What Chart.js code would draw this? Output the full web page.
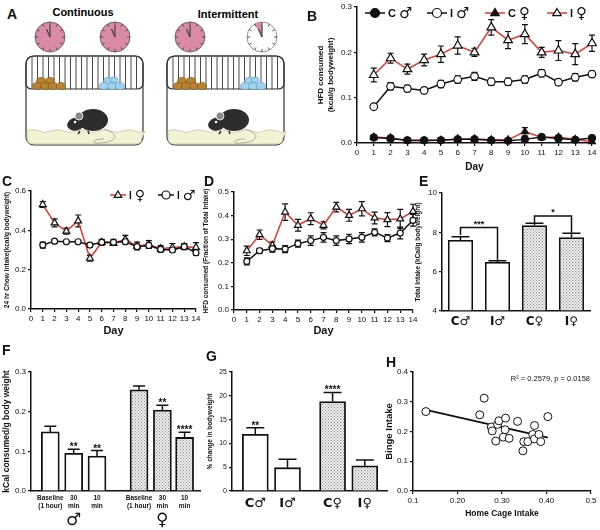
<!DOCTYPE html>
<html>
<head>
<meta charset="utf-8">
<script src="https://cdn.jsdelivr.net/npm/chart.js@4.4.1/dist/chart.umd.min.js"></script>
<style>
  body { margin:0; background:#fff; width:600px; height:530px; position:relative; overflow:hidden;
         font-family:'Liberation Sans','DejaVu Sans',sans-serif; color:#111; }
  .box { position:absolute; }
  .lbl { position:absolute; font-weight:bold; font-size:14px; z-index:5; }
  .sym { position:absolute; font-family:'DejaVu Sans',sans-serif; font-weight:bold; font-size:17px; z-index:5; }
</style>
</head>
<body>

<svg class="box" style="left:0;top:0" width="300" height="165">
  <defs>
    <g id="cage">
      <rect x="26" y="56" width="117" height="89" rx="8" fill="#fff" stroke="#333" stroke-width="1.2"/>
      <path d="M27 131 q6 -3 12 0 t12 0 t12 0 t12 0 t12 0 t12 0 t12 0 t12 0 t12 0 t10 0 L142 138 Q142 144 136 144 L33 144 Q27 144 27 138 Z" fill="#f4f2d4" stroke="#b8b68c" stroke-width="0.6"/>
      <g stroke="#333" stroke-width="0.9">
        <line x1="32" y1="57" x2="32" y2="89"/><line x1="37.5" y1="57" x2="37.5" y2="89"/><line x1="43" y1="57" x2="43" y2="89"/>
        <line x1="48.5" y1="57" x2="48.5" y2="89"/><line x1="54" y1="57" x2="54" y2="89"/><line x1="59.5" y1="57" x2="59.5" y2="89"/>
        <line x1="65" y1="57" x2="65" y2="89"/><line x1="70.5" y1="57" x2="70.5" y2="89"/><line x1="76" y1="57" x2="76" y2="89"/>
        <line x1="81.5" y1="57" x2="81.5" y2="89"/><line x1="87" y1="57" x2="87" y2="89"/><line x1="92.5" y1="57" x2="92.5" y2="89"/>
        <line x1="98" y1="57" x2="98" y2="89"/><line x1="103.5" y1="57" x2="103.5" y2="89"/><line x1="109" y1="57" x2="109" y2="89"/>
        <line x1="114.5" y1="57" x2="114.5" y2="89"/><line x1="120" y1="57" x2="120" y2="89"/><line x1="125.5" y1="57" x2="125.5" y2="89"/>
        <line x1="131" y1="57" x2="131" y2="89"/><line x1="136.5" y1="57" x2="136.5" y2="89"/>
      </g>
      <path d="M26 64 Q26 56 34 56 L135 56 Q143 56 143 64 L143 83 Q143 89 137 89 L32 89 Q26 89 26 83 Z" fill="none" stroke="#333" stroke-width="1.2"/>
      <g fill="#b9822f" stroke="#7a5520" stroke-width="0.6">
        <ellipse cx="41" cy="81" rx="4.5" ry="3.5"/><ellipse cx="50" cy="81" rx="4.5" ry="3.5"/>
        <ellipse cx="37" cy="86" rx="4.5" ry="3.5"/><ellipse cx="45" cy="86" rx="4.5" ry="3.5"/>
        <ellipse cx="53" cy="86" rx="4.5" ry="3.5"/><ellipse cx="61" cy="86" rx="4.5" ry="3.5"/>
      </g>
      <g fill="#9fd2ef" stroke="#5a9cc0" stroke-width="0.6">
        <ellipse cx="108" cy="81" rx="4.5" ry="3.5"/><ellipse cx="114" cy="80" rx="4" ry="3"/>
        <ellipse cx="104" cy="86" rx="4.5" ry="3.5"/><ellipse cx="112" cy="86" rx="4.5" ry="3.5"/>
        <ellipse cx="120" cy="86" rx="4.5" ry="3.5"/>
      </g>
      <path d="M104 129 C120 134 118 142 100 143 C90 144 92 139 104 139" fill="none" stroke="#aaa" stroke-width="1"/>
      <ellipse cx="93" cy="120" rx="15" ry="11" fill="#2d2d2d"/>
      <ellipse cx="76" cy="124" rx="9" ry="6.5" fill="#2d2d2d" transform="rotate(-15 76 124)"/>
      <circle cx="79" cy="116" r="4" fill="#8a8a8a" stroke="#fff" stroke-width="0.8"/>
      <circle cx="75" cy="122" r="1.3" fill="#fff"/>
      <path d="M80 131 l-2 3 M88 131 l1 3" stroke="#2d2d2d" stroke-width="1.5"/>
    </g>
    <g id="clock">
      <g stroke="#444" stroke-width="0.9">
        <line x1="0" y1="-15" x2="0" y2="-12"/><line x1="0" y1="15" x2="0" y2="12"/>
        <line x1="-15" y1="0" x2="-12" y2="0"/><line x1="15" y1="0" x2="12" y2="0"/>
        <line x1="7.5" y1="-13" x2="6" y2="-10.4"/><line x1="13" y1="-7.5" x2="10.4" y2="-6"/>
        <line x1="13" y1="7.5" x2="10.4" y2="6"/><line x1="7.5" y1="13" x2="6" y2="10.4"/>
        <line x1="-7.5" y1="13" x2="-6" y2="10.4"/><line x1="-13" y1="7.5" x2="-10.4" y2="6"/>
        <line x1="-13" y1="-7.5" x2="-10.4" y2="-6"/><line x1="-7.5" y1="-13" x2="-6" y2="-10.4"/>
        <line x1="0" y1="0" x2="0" y2="-12" stroke-width="1.2"/><line x1="0" y1="0" x2="-3.5" y2="-8" stroke-width="1.2"/>
      </g>
    </g>
  </defs>
  <text x="83" y="16" text-anchor="middle" font-weight="bold" font-size="11" font-family="Liberation Sans">Continuous</text>
  <text x="228" y="18" text-anchor="middle" font-weight="bold" font-size="11" font-family="Liberation Sans">Intermittent</text>
  <use href="#cage"/>
  <use href="#cage" transform="translate(141 0)"/>
  <circle cx="50" cy="37" r="15" fill="#d98aa7" stroke="#555" stroke-width="0.8"/>
  <use href="#clock" transform="translate(50 37)"/>
  <circle cx="115" cy="37" r="15" fill="#d98aa7" stroke="#555" stroke-width="0.8"/>
  <use href="#clock" transform="translate(115 37)"/>
  <circle cx="190" cy="37" r="15" fill="#d98aa7" stroke="#555" stroke-width="0.8"/>
  <use href="#clock" transform="translate(190 37)"/>
  <circle cx="262" cy="37" r="15" fill="#fff" stroke="#777" stroke-width="0.8"/>
  <path d="M262 37 L262 22 A15 15 0 0 0 254.5 24 Z" fill="#d98aa7"/>
  <use href="#clock" transform="translate(262 37)"/>
</svg>

<div class="lbl" style="left:7px;top:6px">A</div>
<div class="lbl" style="left:307px;top:8px">B</div>
<div class="lbl" style="left:2px;top:173px">C</div>
<div class="lbl" style="left:204px;top:173px">D</div>
<div class="lbl" style="left:419px;top:173px">E</div>
<div class="lbl" style="left:2px;top:342px">F</div>
<div class="lbl" style="left:206px;top:348px">G</div>
<div class="lbl" style="left:386px;top:354px">H</div>

<canvas id="chB" class="box" style="left:300px;top:0" width="300" height="175"></canvas>
<canvas id="chC" class="box" style="left:0;top:175px" width="210" height="165"></canvas>
<canvas id="chD" class="box" style="left:200px;top:175px" width="220" height="165"></canvas>
<canvas id="chE" class="box" style="left:410px;top:175px" width="190" height="160"></canvas>
<canvas id="chF" class="box" style="left:0;top:335px" width="210" height="195"></canvas>
<canvas id="chG" class="box" style="left:205px;top:335px" width="185" height="195"></canvas>
<canvas id="chH" class="box" style="left:383px;top:335px" width="217" height="195"></canvas>

<div class="sym" style="left:66px;top:509px">♂</div>
<div class="sym" style="left:156px;top:509px">♀</div>

<script>
'use strict';

let days = [1, 2, 3, 4, 5, 6, 7, 8, 9, 10, 11, 12, 13, 14];

// B: HFD consumed (kcal/g bodyweight)
let hfdCMale = [0.012, 0.010, 0.006, 0.006, 0.006, 0.008, 0.008, 0.006, 0.005, 0.008, 0.013, 0.010, 0.007, 0.011];
let hfdIMale = [0.080, 0.125, 0.120, 0.116, 0.130, 0.140, 0.147, 0.135, 0.135, 0.140, 0.154, 0.134, 0.145, 0.152];
let hfdIMaleErr = [0.002, 0.008, 0.007, 0.007, 0.008, 0.008, 0.009, 0.008, 0.008, 0.008, 0.008, 0.007, 0.008, 0.006];
let hfdCFemale = [0.013, 0.011, 0.005, 0.005, 0.006, 0.009, 0.009, 0.007, 0.007, 0.025, 0.012, 0.013, 0.008, 0.003];
let hfdCFemaleErr = [null, null, null, null, null, null, null, null, null, 0.009, null, 0.004, null, null];
let hfdIFemale = [0.150, 0.187, 0.163, 0.183, 0.196, 0.215, 0.200, 0.255, 0.227, 0.240, 0.200, 0.204, 0.196, 0.220];
let hfdIFemaleErr = [0.015, 0.011, 0.011, 0.013, 0.018, 0.019, 0.009, 0.017, 0.019, 0.021, 0.011, 0.022, 0.023, 0.018];

// C: 24 hr chow intake
let chowIFemale = [0.531, 0.438, 0.396, 0.448, 0.258, 0.339, 0.334, 0.354, 0.320, 0.328, 0.307, 0.313, 0.317, 0.313];
let chowIFemaleErr = [0.015, 0.02, 0.015, 0.03, 0.015, 0.015, 0.01, 0.02, 0.02, 0.02, 0.015, 0.02, 0.015, 0.025];
let chowIMale = [0.325, 0.345, 0.342, 0.342, 0.325, 0.339, 0.339, 0.342, 0.317, 0.323, 0.303, 0.300, 0.317, 0.286];
let chowIMaleErr = [0.015, 0.008, 0.006, 0.006, 0.01, 0.01, 0.015, 0.01, 0.012, 0.012, 0.012, 0.01, 0.01, 0.012];

// D: HFD fraction of total intake
let fracIFemale = [0.251, 0.319, 0.274, 0.415, 0.359, 0.387, 0.359, 0.436, 0.401, 0.429, 0.390, 0.383, 0.386, 0.418];
let fracIFemaleErr = [0.02, 0.02, 0.015, 0.035, 0.025, 0.025, 0.015, 0.02, 0.025, 0.03, 0.025, 0.03, 0.04, 0.03];
let fracIMale = [0.206, 0.251, 0.260, 0.258, 0.281, 0.294, 0.308, 0.294, 0.301, 0.308, 0.329, 0.305, 0.326, 0.380];
let fracIMaleErr = [0.015, 0.01, 0.015, 0.015, 0.015, 0.02, 0.02, 0.02, 0.02, 0.02, 0.015, 0.015, 0.025, 0.025];

// E: total intake
let groups = ['C♂', 'I♂', 'C♀', 'I♀'];
let totalIntake = [7.61, 6.49, 8.36, 7.75];
let totalIntakeErr = [0.17, 0.07, 0.10, 0.20];

// F: binge test
let bingeLabels = [['Baseline', '(1 hour)'], ['30', 'min'], ['10', 'min'], ['Baseline', '(1 hour)'], ['30', 'min'], ['10', 'min']];
let bingeSlots = [1, 2, 3, 4.8, 5.8, 6.75];
let bingeMale = [0.149, 0.095, 0.088];
let bingeMaleErr = [0.014, 0.010, 0.014];
let bingeFemale = [0.255, 0.204, 0.135];
let bingeFemaleErr = [0.010, 0.012, 0.013];
let bingeStars = ['', '**', '**', '', '**', '****'];

// G: % change in bodyweight
let weightSlots = [1, 2, 3.4, 4.4];
let weightChange = [11.9, 4.9, 18.8, 5.3];
let weightChangeErr = [1.4, 1.75, 1.9, 1.2];
let weightStars = ['**', '', '****', ''];

// H: binge vs home cage intake
let homeCage = [0.129, 0.250, 0.260, 0.276, 0.278, 0.286, 0.290, 0.293, 0.303, 0.307, 0.308, 0.316, 0.335, 0.347, 0.349, 0.358, 0.369, 0.373, 0.373, 0.383, 0.387, 0.403];
let bingeIntake = [0.267, 0.256, 0.312, 0.215, 0.202, 0.168, 0.224, 0.236, 0.181, 0.206, 0.245, 0.177, 0.234, 0.135, 0.166, 0.166, 0.190, 0.220, 0.175, 0.190, 0.166, 0.250];
let fitX = [0.129, 0.403];
let fitY = [0.273, 0.179];
let homeCageTicks = ['0.1', '0.20', '0.30', '0.40', '0.5'];

let RED = '#e8362a';
let INK = '#111';
let SANS = "'Liberation Sans', 'DejaVu Sans', sans-serif";
let SYMFONT = "'DejaVu Sans', sans-serif";

Chart.defaults.font.family = SANS;
Chart.defaults.color = INK;
Chart.defaults.animation = false;
Chart.defaults.plugins.legend.display = false;
Chart.defaults.plugins.tooltip.enabled = false;

// stippled fill used by the female bars
function stipple() {
    let c = document.createElement('canvas');
    c.width = 3; c.height = 3;
    let g = c.getContext('2d');
    g.fillStyle = '#eeeeee';
    g.fillRect(0, 0, 3, 3);
    g.fillStyle = '#8a8a8a';
    g.fillRect(0, 0, 1, 1);
    g.fillRect(1.5, 1.5, 1, 1);
    return g.createPattern(c, 'repeat');
}
let dots = stipple();

function pair(xs, ys) {
    return xs.map((x, i) => ({ x: x, y: ys[i] }));
}

function valueOf(v) {
    return (v !== null && typeof v === 'object') ? v.y : v;
}

// error bars, drawn before the marks so markers sit on top
let errorBars = {
    id: 'errorBars',
    beforeDatasetsDraw(chart) {
        let ctx = chart.ctx;
        chart.data.datasets.forEach((ds, i) => {
            if (!ds.errors) return;
            let meta = chart.getDatasetMeta(i);
            let ys = chart.scales[meta.yAxisID];
            ctx.save();
            ctx.strokeStyle = INK;
            ctx.lineWidth = ds.errorWidth || 1.2;
            meta.data.forEach((el, j) => {
                let e = ds.errors[j];
                if (e == null) return;
                let v = valueOf(ds.data[j]);
                let top = ys.getPixelForValue(v + e);
                let bot = ds.errorUp ? el.y : ys.getPixelForValue(v - e);
                let cap = ds.errorCap || 3;
                ctx.beginPath();
                ctx.moveTo(el.x, bot);
                ctx.lineTo(el.x, top);
                ctx.moveTo(el.x - cap, top);
                ctx.lineTo(el.x + cap, top);
                if (!ds.errorUp) {
                    ctx.moveTo(el.x - cap, bot);
                    ctx.lineTo(el.x + cap, bot);
                }
                ctx.stroke();
            });
            ctx.restore();
        });
    },
    afterDatasetsDraw(chart) {
        let ctx = chart.ctx;
        chart.data.datasets.forEach((ds, i) => {
            if (!ds.stars) return;
            let meta = chart.getDatasetMeta(i);
            let ys = chart.scales[meta.yAxisID];
            ctx.save();
            ctx.fillStyle = INK;
            ctx.font = 'bold 10px ' + SANS;
            ctx.textAlign = 'center';
            ctx.textBaseline = 'alphabetic';
            meta.data.forEach((el, j) => {
                if (!ds.stars[j]) return;
                let top = ys.getPixelForValue(valueOf(ds.data[j]) + (ds.errors ? ds.errors[j] || 0 : 0));
                ctx.fillText(ds.stars[j], el.x, top + 1);
            });
            ctx.restore();
        });
    }
};

function marker(ctx, style, x, y, r, fill) {
    ctx.beginPath();
    if (style === 'triangle') {
        ctx.moveTo(x, y - r);
        ctx.lineTo(x + r * 0.95, y + r * 0.6);
        ctx.lineTo(x - r * 0.95, y + r * 0.6);
        ctx.closePath();
    } else {
        ctx.arc(x, y, r, 0, Math.PI * 2);
    }
    ctx.fillStyle = fill;
    ctx.fill();
    ctx.stroke();
}

// legend in the GraphPad style: line, marker, letter and sex symbol
let lineLegend = {
    id: 'lineLegend',
    afterDraw(chart, args, opts) {
        if (!opts.items) return;
        let ctx = chart.ctx;
        opts.items.forEach(it => {
            ctx.save();
            ctx.strokeStyle = it.color;
            ctx.lineWidth = 1.5;
            ctx.beginPath();
            ctx.moveTo(it.x, opts.y);
            ctx.lineTo(it.x + opts.len, opts.y);
            ctx.stroke();
            ctx.strokeStyle = INK;
            ctx.lineWidth = 1.2;
            marker(ctx, it.style, it.x + opts.len / 2, opts.y, opts.r, it.fill);
            ctx.fillStyle = INK;
            ctx.textBaseline = 'middle';
            ctx.font = 'bold ' + opts.size + 'px ' + SANS;
            let tx = it.x + opts.len + 3;
            ctx.fillText(it.text, tx, opts.y + 1);
            tx += ctx.measureText(it.text).width + 3;
            ctx.font = 'bold ' + (opts.size + 4) + 'px ' + SYMFONT;
            ctx.fillText(it.sym, tx, opts.y + 1);
            ctx.restore();
        });
    }
};

// significance brackets for panel E
let brackets = {
    id: 'brackets',
    afterDatasetsDraw(chart, args, opts) {
        if (!opts.items) return;
        let ctx = chart.ctx;
        let meta = chart.getDatasetMeta(0);
        let ys = chart.scales.y;
        opts.items.forEach(b => {
            let xa = meta.data[b.a].x, xb = meta.data[b.b].x;
            let yt = ys.getPixelForValue(b.top);
            ctx.save();
            ctx.strokeStyle = INK;
            ctx.lineWidth = 1.5;
            ctx.beginPath();
            ctx.moveTo(xa, ys.getPixelForValue(b.aEnd));
            ctx.lineTo(xa, yt);
            ctx.lineTo(xb, yt);
            ctx.lineTo(xb, ys.getPixelForValue(b.bEnd));
            ctx.stroke();
            ctx.fillStyle = INK;
            ctx.font = 'bold 9px ' + SANS;
            ctx.textAlign = 'center';
            ctx.fillText(b.text, (xa + xb) / 2, yt - 1);
            ctx.restore();
        });
    }
};

Chart.register(errorBars, lineLegend, brackets);

function yAxis(o) {
    return {
        min: o.min, max: o.max,
        ticks: { stepSize: o.step, padding: 2, font: { size: o.tick || 8 }, color: INK,
                 callback: v => v.toFixed(o.dec) },
        grid: { drawOnChartArea: false, tickLength: 3, color: INK, lineWidth: 1.2 },
        border: { color: INK, width: 1.5 },
        title: { display: true, text: o.title, font: { size: o.size, weight: 'bold' },
                 padding: { top: o.pad, bottom: 0 } },
        afterFit(s) { s.width = o.w; }
    };
}

function dayAxis(h, pad, size) {
    return {
        type: 'linear', min: 0, max: 14,
        ticks: { stepSize: 1, autoSkip: false, maxRotation: 0, font: { size: 8 }, padding: 2, color: INK },
        grid: { drawOnChartArea: false, tickLength: 3, color: INK, lineWidth: 1.2 },
        border: { color: INK, width: 1.5 },
        title: { display: true, text: 'Day', font: { size: size, weight: 'bold' }, padding: { top: 0, bottom: pad } },
        afterFit(s) { s.height = h; }
    };
}

function series(data, errs, line, style, fill, r) {
    return {
        data: pair(days, data), errors: errs, errorCap: 3,
        borderColor: line, borderWidth: 1.5,
        pointStyle: style, pointRadius: r, pointBorderColor: INK, pointBorderWidth: 1.2,
        pointBackgroundColor: fill, clip: 8
    };
}

// B
new Chart(document.getElementById('chB'), {
    type: 'line',
    data: { datasets: [
        series(hfdCMale, null, INK, 'circle', INK, 3.5),
        series(hfdCFemale, hfdCFemaleErr, RED, 'triangle', INK, 4),
        series(hfdIMale, hfdIMaleErr, INK, 'circle', '#fff', 3.8),
        series(hfdIFemale, hfdIFemaleErr, RED, 'triangle', '#fff', 5)
    ] },
    options: {
        responsive: false,
        layout: { padding: { top: 7, right: 8, left: 0, bottom: 0 } },
        scales: {
            x: dayAxis(32, 2, 10),
            y: yAxis({ min: 0, max: 0.3, step: 0.1, dec: 1, w: 57, size: 8,
                       title: ['HFD consumed', '(kcal/g bodyweight)'], pad: 16 })
        },
        plugins: { lineLegend: { y: 13, len: 20, r: 4.5, size: 11, items: [
            { x: 65, text: 'C', sym: '♂', color: INK, style: 'circle', fill: INK },
            { x: 127, text: 'I', sym: '♂', color: INK, style: 'circle', fill: '#fff' },
            { x: 185, text: 'C', sym: '♀', color: RED, style: 'triangle', fill: INK },
            { x: 247, text: 'I', sym: '♀', color: RED, style: 'triangle', fill: '#fff' }
        ] } }
    }
});

// C
new Chart(document.getElementById('chC'), {
    type: 'line',
    data: { datasets: [
        series(chowIMale, chowIMaleErr, INK, 'circle', '#fff', 3),
        series(chowIFemale, chowIFemaleErr, RED, 'triangle', '#fff', 4)
    ] },
    options: {
        responsive: false,
        layout: { padding: { top: 16, right: 14, left: 0, bottom: 0 } },
        scales: {
            x: dayAxis(31, 2, 11),
            y: yAxis({ min: 0, max: 0.6, step: 0.2, dec: 1, w: 31, size: 6.5,
                       title: '24 hr Chow Intake(kcal/g bodyweight)', pad: 3 })
        },
        plugins: { lineLegend: { y: 20, len: 16, r: 4, size: 10, items: [
            { x: 110, text: 'I', sym: '♀', color: RED, style: 'triangle', fill: '#fff' },
            { x: 158, text: 'I', sym: '♂', color: INK, style: 'circle', fill: '#fff' }
        ] } }
    }
});

// D
new Chart(document.getElementById('chD'), {
    type: 'line',
    data: { datasets: [
        series(fracIMale, fracIMaleErr, INK, 'circle', '#fff', 3),
        series(fracIFemale, fracIFemaleErr, RED, 'triangle', '#fff', 4)
    ] },
    options: {
        responsive: false,
        layout: { padding: { top: 17, right: 7, left: 0, bottom: 0 } },
        scales: {
            x: dayAxis(30, 2, 11),
            y: yAxis({ min: 0, max: 0.5, step: 0.1, dec: 1, w: 34, size: 6.5,
                       title: 'HFD consumed (Fraction of Total Intake)', pad: 2 })
        }
    }
});

// E
new Chart(document.getElementById('chE'), {
    type: 'bar',
    data: { labels: groups, datasets: [{
        data: totalIntake, errors: totalIntakeErr, errorUp: true, errorCap: 9, errorWidth: 1.5, base: 4,
        backgroundColor: ['#fff', '#fff', dots, dots], borderColor: INK, borderWidth: 1.8,
        borderSkipped: 'bottom', barPercentage: 0.68, categoryPercentage: 1
    }] },
    options: {
        responsive: false,
        layout: { padding: { top: 18, right: 10, left: 0, bottom: 0 } },
        scales: {
            x: {
                grid: { display: false, drawTicks: false },
                border: { color: INK, width: 1.5 },
                ticks: { padding: 4, font: { size: 12, weight: 'bold', family: SYMFONT }, color: INK,
                         maxRotation: 0, autoSkip: false, callback: (v, i) => groups[i] },
                afterFit(s) { s.height = 24; }
            },
            y: yAxis({ min: 4, max: 10, step: 2, dec: 0, w: 32, size: 6.5,
                       title: 'Total Intake (kCal/g bodyweight)', pad: 4 })
        },
        plugins: { brackets: { items: [
            { a: 0, b: 1, top: 8.24, aEnd: 7.86, bEnd: 6.51, text: '***' },
            { a: 2, b: 3, top: 8.83, aEnd: 8.46, bEnd: 7.95, text: '*' }
        ] } }
    }
});

function slotAxis(min, max, slots, labels, h, font, pad) {
    return {
        type: 'linear', min: min, max: max, offset: false,
        grid: { display: false, drawTicks: false },
        border: { color: INK, width: 1.5 },
        afterBuildTicks(s) { s.ticks = slots.map(v => ({ value: v })); },
        ticks: { padding: pad, font: font, color: INK, maxRotation: 0, autoSkip: false,
                 callback: (v, i) => labels[i] },
        afterFit(s) { s.height = h; }
    };
}

// F
new Chart(document.getElementById('chF'), {
    type: 'bar',
    data: { datasets: [{
        data: pair(bingeSlots, bingeMale.concat(bingeFemale)),
        errors: bingeMaleErr.concat(bingeFemaleErr), errorUp: true, errorCap: 6, errorWidth: 1.5,
        stars: bingeStars,
        backgroundColor: ['#fff', '#fff', '#fff', dots, dots, dots], borderColor: INK, borderWidth: 1.8,
        borderSkipped: 'bottom', barThickness: 18
    }] },
    options: {
        responsive: false,
        layout: { padding: { top: 37, right: 10, left: 0, bottom: 0 } },
        scales: {
            x: slotAxis(0.173, 7.41, bingeSlots, bingeLabels, 39, { size: 6.5, weight: 'bold', lineHeight: 1.25 }, 3),
            y: yAxis({ min: 0, max: 0.3, step: 0.1, dec: 1, w: 31, size: 8.5,
                       title: 'kCal consumed/g body weight', pad: 2 })
        }
    }
});

// G
new Chart(document.getElementById('chG'), {
    type: 'bar',
    data: { datasets: [{
        data: pair(weightSlots, weightChange),
        errors: weightChangeErr, errorUp: true, errorCap: 9, errorWidth: 1.5,
        stars: weightStars,
        backgroundColor: ['#fff', '#fff', dots, dots], borderColor: INK, borderWidth: 1.8,
        borderSkipped: 'bottom', barThickness: 26
    }] },
    options: {
        responsive: false,
        layout: { padding: { top: 37, right: 3, left: 0, bottom: 0 } },
        scales: {
            x: slotAxis(0.276, 5.09, weightSlots, groups, 39, { size: 13, weight: 'bold', family: SYMFONT }, 5),
            y: yAxis({ min: 0, max: 25, step: 5, dec: 0, w: 27, size: 6.5, tick: 7,
                       title: '% change in bodyweight', pad: 1 })
        }
    }
});

// H
new Chart(document.getElementById('chH'), {
    type: 'scatter',
    data: { datasets: [
        { data: pair(homeCage, bingeIntake), pointStyle: 'circle', pointRadius: 4,
          pointBackgroundColor: '#fff', pointBorderColor: INK, pointBorderWidth: 1 },
        { type: 'line', data: pair(fitX, fitY), borderColor: INK, borderWidth: 1.8,
          pointRadius: 0, showLine: true }
    ] },
    options: {
        responsive: false,
        layout: { padding: { top: 37, right: 9, left: 0, bottom: 0 } },
        scales: {
            x: {
                type: 'linear', min: 0.1, max: 0.5,
                afterBuildTicks(s) { s.ticks = [0.1, 0.2, 0.3, 0.4, 0.5].map(v => ({ value: v })); },
                ticks: { font: { size: 8 }, color: INK, padding: 2, maxRotation: 0,
                         callback: (v, i) => homeCageTicks[i] },
                grid: { drawOnChartArea: false, tickLength: 3, color: INK, lineWidth: 1.2 },
                border: { color: INK, width: 1.5 },
                title: { display: true, text: 'Home Cage Intake', font: { size: 8.5, weight: 'bold' },
                         padding: { top: 0, bottom: 11 } },
                afterFit(s) { s.height = 39; }
            },
            y: yAxis({ min: 0, max: 0.4, step: 0.1, dec: 1, w: 30, size: 9.5,
                       title: 'Binge Intake', pad: 1 })
        }
    },
    plugins: [{
        id: 'statNote',
        afterDraw(chart) {
            let ctx = chart.ctx;
            ctx.save();
            ctx.fillStyle = INK;
            ctx.font = '7.5px ' + SANS;
            ctx.textAlign = 'right';
            ctx.fillText('R² = 0.2579, p = 0.0158', chart.chartArea.right - 1, chart.chartArea.top + 9);
            ctx.restore();
        }
    }]
});
</script>
</body>
</html>
